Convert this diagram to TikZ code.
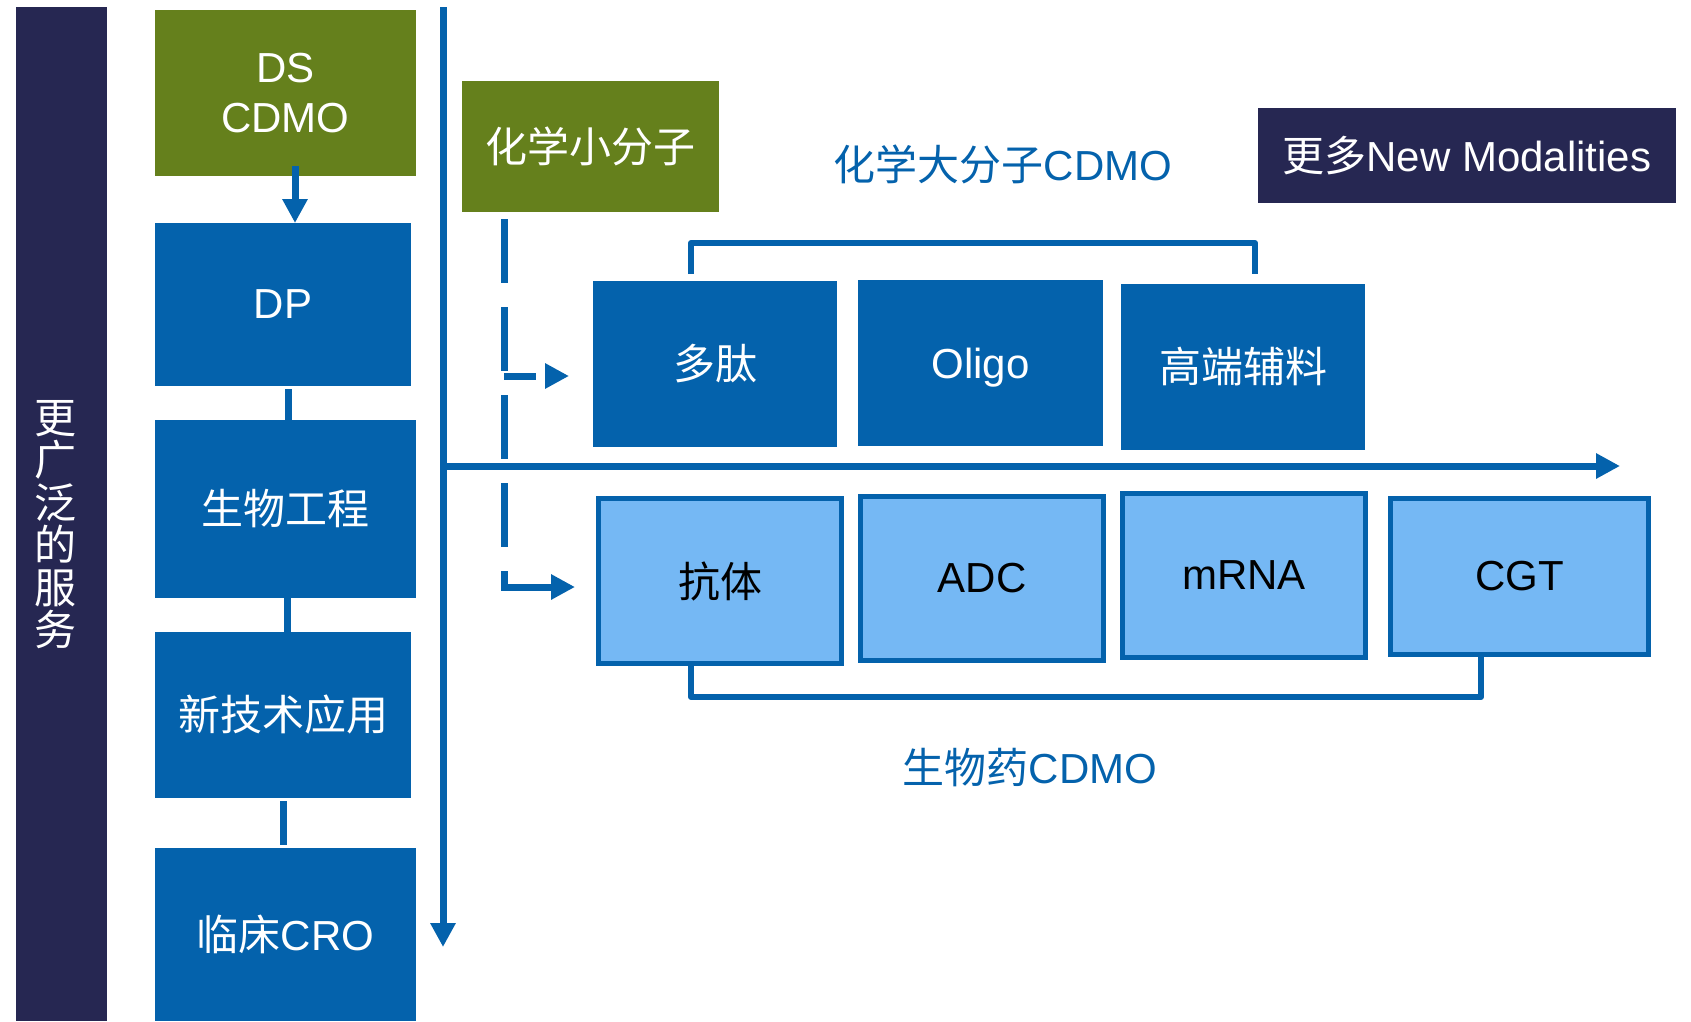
\documentclass[tikz,border=0pt]{standalone}
\usepackage{fontspec}
\setmainfont{Liberation Sans}
\newfontfamily\cjk{Noto Sans CJK SC}
\usetikzlibrary{arrows.meta}
\definecolor{navy}{RGB}{38,39,82}
\definecolor{leafgreen}{RGB}{101,128,28}
\definecolor{wxblue}{RGB}{4,98,172}
\definecolor{skyblue}{RGB}{117,184,244}
\tikzset{
  tile/.style={rectangle,inner sep=0pt,outer sep=0pt,text=white,align=center,
    font=\fontsize{42pt}{50pt}\selectfont},
  greentile/.style={tile,fill=leafgreen},
  bluetile/.style={tile,fill=wxblue},
  navytile/.style={tile,fill=navy},
  lighttile/.style={tile,fill=skyblue,draw=wxblue,line width=5pt,text=black},
  caption/.style={text=wxblue,inner sep=0pt,font=\fontsize{42pt}{50pt}\selectfont},
  axisline/.style={wxblue,line width=7pt,-{Triangle[width=24pt,length=24pt]}},
  link/.style={wxblue,line width=7pt},
  dashlink/.style={wxblue,line width=7pt,dash pattern=on 64pt off 24pt,
    -{Triangle[width=24pt,length=24pt]}},
  bracket/.style={wxblue,line width=6pt,line join=round}
}
\newcommand{\tilebox}[6]{\node[#1,minimum width=#4pt,minimum height=#5pt] (#2) at (#3) {#6};}

\begin{document}
\begin{tikzpicture}[x=1pt,y=1pt]
        \useasboundingbox (0,0) rectangle (1691,-1021);

        % left bar
        \tilebox{navytile}{bar}{61.5,-514}{91}{1014}{}
        \node[text=white,inner sep=0pt,align=center,
          font=\cjk\fontsize{42pt}{42.5pt}\selectfont] (servtext) at (55,-524.5)
          {更\\广\\泛\\的\\服\\务};

        % service column
        \tilebox{greentile}{ds}{285.5,-93}{261}{166}{DS\\CDMO}
        \tilebox{bluetile}{dp}{283,-304.5}{256}{163}{DP}
        \tilebox{bluetile}{bio}{285.5,-509}{261}{178}{\cjk 生物工程}
        \tilebox{bluetile}{newtech}{283,-715}{256}{166}{\cjk 新技术应用}
        \tilebox{bluetile}{cro}{285.5,-934.5}{261}{173}{{\cjk 临床}CRO}

        \draw[axisline] ([xshift=9.5pt,yshift=10pt]ds.south) -- ([xshift=12pt]dp.north);
        \draw[link] ([xshift=5pt,yshift=-3pt]dp.south) -- ([xshift=2.5pt]bio.north);
        \draw[link] ([xshift=1.5pt]bio.south) -- ([xshift=4pt]newtech.north);
        \draw[link] ([yshift=-3pt]newtech.south) -- ([xshift=-2.5pt,yshift=3pt]cro.north);

        % axes
        \coordinate (vtop) at (443,-7);
        \coordinate (vend) at (443,-947);
        \coordinate (hstart) at (443,-466);
        \coordinate (hend) at (1620,-466);
        \draw[axisline] (vtop) -- (vend);
        \draw[axisline] (hstart) -- (hend);

        % top row
        \tilebox{greentile}{chem}{590.5,-146.5}{257}{131}{\cjk 化学小分子}
        \node[caption] (chemlabel) at (1003,-164) {{\cjk 化学大分子}CDMO};
        \tilebox{navytile}{more}{1467,-155.5}{418}{95}{{\cjk 更多}New Modalities}

        \tilebox{bluetile}{peptide}{715,-364}{244}{166}{\cjk 多肽}
        \tilebox{bluetile,text depth=0pt}{oligo}{980.5,-363}{245}{166}{Oligo}
        \tilebox{bluetile}{excip}{1243,-367}{244}{166}{\cjk 高端辅料}
        \draw[bracket] ([xshift=-24pt,yshift=7pt]peptide.north) -- ++(0,31)
          -| ([xshift=12pt,yshift=10pt]excip.north);

        % bottom row
        \tilebox{lighttile}{antibody}{720,-581}{243}{165}{\cjk 抗体}
        \tilebox{lighttile}{adc}{982,-578.5}{243}{164}{ADC}
        \tilebox{lighttile}{mrna}{1244,-575.5}{243}{164}{mRNA}
        \tilebox{lighttile}{cgt}{1519.5,-576.5}{258}{156}{CGT}
        \draw[bracket] ([xshift=-29pt,yshift=-2.5pt]antibody.south) -- ++(0,-31)
          -| ([xshift=-38.5pt,yshift=-2.5pt]cgt.south);
        \node[caption] (biolabel) at (1030,-768) {{\cjk 生物药}CDMO};

        % dashed links
        \coordinate (dashtop) at (504,-219);
        \coordinate (fork) at (504,-376);
        \draw[dashlink,shorten >=23.5pt] (dashtop) |- ([yshift=-6pt]antibody.west);
        \draw[dashlink,dash pattern=on 32pt off 24pt,shorten >=24pt] (fork) -- (fork -| peptide.west);
    \end{tikzpicture}
\end{document}
